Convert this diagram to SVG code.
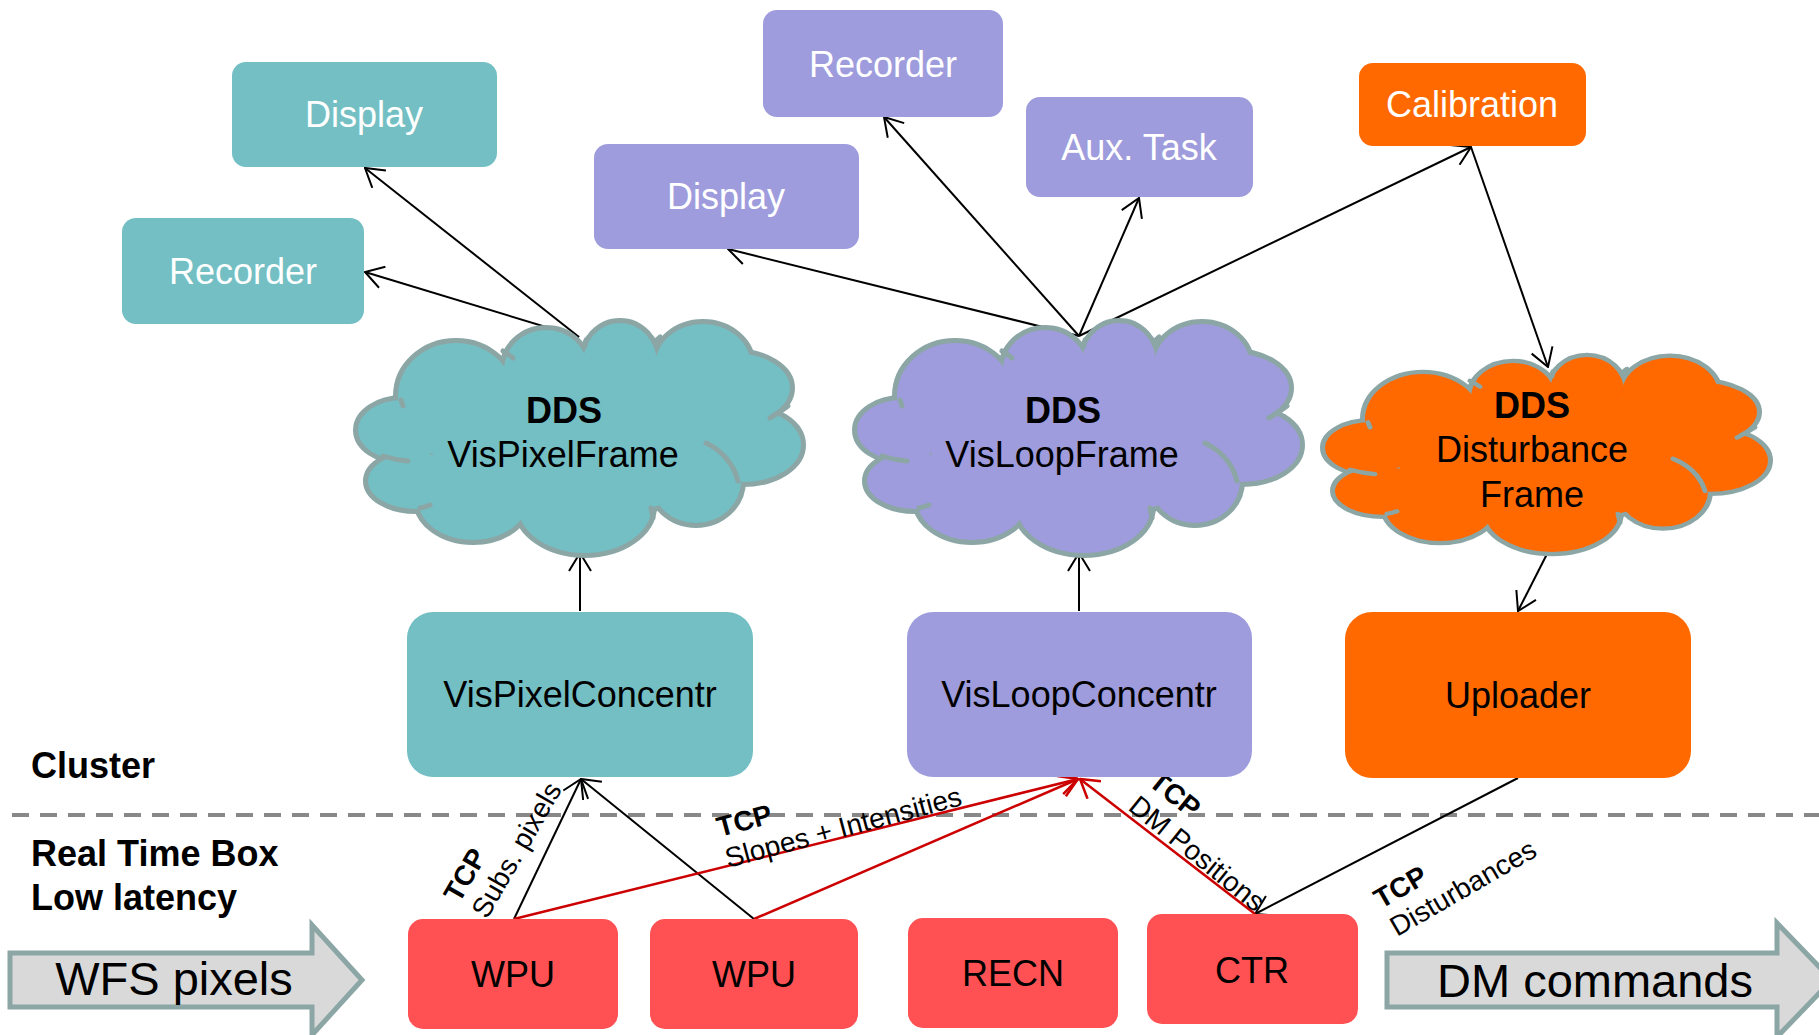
<svg xmlns="http://www.w3.org/2000/svg" xmlns:xlink="http://www.w3.org/1999/xlink" width="1819" height="1035" viewBox="0 0 1819 1035">
<style>
text{font-family:"Liberation Sans",Arial,sans-serif}
.t36{font-size:36px;text-anchor:middle}
.white{fill:#fff}
.blk{fill:#000}
.teal{fill:#73BFC4}
.purple{fill:#9E9CDC}
.orange{fill:#FF6900}
.red{fill:#FF5153}
.cl-out{fill:currentColor;stroke:#8CA6A6;stroke-width:10}
.cl-in{fill:currentColor;stroke:none}
.cl-tick{fill:none;stroke:#8CA6A6;stroke-width:5;stroke-linecap:round}
.conn{fill:none;stroke:#000;stroke-width:2;marker-end:url(#ah)}
.connr{fill:none;stroke:#CC0000;stroke-width:2.5;marker-end:url(#ahr)}
.lbl{font-size:28px;fill:#000}
.sec{font-size:36px;font-weight:bold;fill:#000}
.bigarrow{fill:#D9D9D9;stroke:#8CA6A6;stroke-width:5}
.big{font-size:47px;text-anchor:middle;fill:#000}
</style>
<defs>
<marker id="ah" viewBox="0 0 20 24" refX="19" refY="12" markerWidth="20" markerHeight="24" markerUnits="userSpaceOnUse" orient="auto">
<path d="M1,1 L19,12 L1,23" fill="none" stroke="#000" stroke-width="2"/>
</marker>
<marker id="ahr" viewBox="0 0 20 24" refX="19" refY="12" markerWidth="20" markerHeight="24" markerUnits="userSpaceOnUse" orient="auto">
<path d="M1,1 L19,12 L1,23" fill="none" stroke="#CC0000" stroke-width="2.5"/>
</marker>
<g id="blobs">
<ellipse cx="45" cy="107" rx="45" ry="30"/>
<ellipse cx="58" cy="158" rx="48" ry="28"/>
<ellipse cx="115" cy="177" rx="55" ry="40"/>
<ellipse cx="227" cy="183" rx="67" ry="47"/>
<ellipse cx="338" cy="158" rx="45" ry="42"/>
<ellipse cx="385" cy="122" rx="58" ry="37"/>
<ellipse cx="375" cy="65" rx="57" ry="35"/>
<ellipse cx="345" cy="43" rx="48" ry="42"/>
<ellipse cx="262" cy="40" rx="37" ry="40"/>
<ellipse cx="188" cy="47" rx="42" ry="40"/>
<ellipse cx="98" cy="73" rx="58" ry="53"/>
<ellipse cx="222" cy="117" rx="150" ry="77"/>
</g>
<g id="ticks">
<path d="M43,77 q1,3 2,6"/>
<path d="M25,133 q12,4 25,5"/>
<path d="M62,185 q5,-1 10,-3"/>
<path d="M293,185 q1,5 2,10"/>
<path d="M348,120 q25,12 32,38"/>
<path d="M412,95 q9,-5 18,-12"/>
<path d="M297,20 q2,-4 5,-6"/>
<path d="M227,23 q0,-4 1,-6"/>
<path d="M155,35 q-5,-4 -10,-7"/>
</g>
</defs>

<rect x="0" y="0" width="1819" height="1035" fill="#fff"/>

<!-- section labels and divider -->
<g id="sections">
<line x1="12" y1="815" x2="1819" y2="815" stroke="#888" stroke-width="4" stroke-dasharray="17 11"/>
<text class="sec" x="31" y="778">Cluster</text>
<text class="sec" x="31" y="866">Real Time Box</text>
<text class="sec" x="31" y="910">Low latency</text>
</g>

<!-- big arrows -->
<g id="wfs-pixels">
<path class="bigarrow" d="M10,953 H312 V925 L362,980 L312,1035 V1007 H10 Z"/>
<text class="big" x="174" y="995">WFS pixels</text>
</g>
<g id="dm-commands">
<path class="bigarrow" d="M1387,953 H1777 V923 L1832,980 L1777,1037 V1007 H1387 Z"/>
<text class="big" x="1595" y="997">DM commands</text>
</g>

<!-- connectors -->
<g id="connectors">
<line class="conn" x1="579" y1="337" x2="365" y2="168"/>
<line class="conn" x1="579" y1="337" x2="365" y2="272"/>
<line class="conn" x1="1079" y1="336" x2="728" y2="249"/>
<line class="conn" x1="1079" y1="336" x2="884" y2="117"/>
<line class="conn" x1="1079" y1="336" x2="1139" y2="198"/>
<line class="conn" x1="1079" y1="336" x2="1471" y2="147"/>
<line class="conn" x1="1471" y1="147" x2="1548" y2="367"/>
<line class="conn" x1="1548" y1="552" x2="1518" y2="611"/>
<line class="conn" x1="580" y1="611" x2="580" y2="553"/>
<line class="conn" x1="1079" y1="611" x2="1079" y2="553"/>
<line class="conn" x1="514" y1="919" x2="581" y2="779"/>
<line class="conn" x1="754" y1="919" x2="581" y2="779"/>
<line class="conn" x1="1518" y1="778" x2="1255" y2="914"/>
<line class="connr" x1="514" y1="919" x2="1078" y2="779"/>
<line class="connr" x1="754" y1="919" x2="1078" y2="779"/>
<line class="connr" x1="1255" y1="914" x2="1080" y2="779"/>
<text class="lbl" transform="translate(487,920) rotate(-60)"><tspan x="0" y="-32" font-weight="bold">TCP</tspan><tspan x="0" y="0">Subs. pixels</tspan></text>
<text class="lbl" transform="translate(728,868) rotate(-15)"><tspan x="0" y="-32" font-weight="bold">TCP</tspan><tspan x="0" y="0">Slopes + Intensities</tspan></text>
<text class="lbl" transform="translate(1127,809) rotate(39)"><tspan x="0" y="-32" font-weight="bold">TCP</tspan><tspan x="0" y="0">DM Positions</tspan></text>
<text class="lbl" transform="translate(1397,937) rotate(-30)"><tspan x="0" y="-32" font-weight="bold">TCP</tspan><tspan x="0" y="0">Disturbances</tspan></text>
</g>

<!-- top boxes -->
<g id="display-teal">
<rect class="teal" x="232" y="62" width="265" height="105" rx="14"/>
<text class="t36 white" x="364" y="127">Display</text>
</g>
<g id="recorder-teal">
<rect class="teal" x="122" y="218" width="242" height="106" rx="14"/>
<text class="t36 white" x="243" y="284">Recorder</text>
</g>
<g id="recorder-purple">
<rect class="purple" x="763" y="10" width="240" height="107" rx="14"/>
<text class="t36 white" x="883" y="77">Recorder</text>
</g>
<g id="display-purple">
<rect class="purple" x="594" y="144" width="265" height="105" rx="14"/>
<text class="t36 white" x="726" y="209">Display</text>
</g>
<g id="aux-task">
<rect class="purple" x="1026" y="97" width="227" height="100" rx="14"/>
<text class="t36 white" x="1139" y="160">Aux. Task</text>
</g>
<g id="calibration">
<rect class="orange" x="1359" y="63" width="227" height="83" rx="14"/>
<text class="t36 white" x="1472" y="117">Calibration</text>
</g>

<!-- clouds -->
<g id="dds-vispixelframe">
<g transform="translate(358,323)" style="color:#73BFC4">
<use xlink:href="#blobs" class="cl-out"/>
<use xlink:href="#blobs" class="cl-in"/>
<use xlink:href="#ticks" class="cl-tick"/>
</g>
<text class="t36 blk" x="564" y="423" font-weight="bold">DDS</text>
<text class="t36 blk" x="563" y="467">VisPixelFrame</text>
</g>
<g id="dds-visloopframe">
<g transform="translate(857,323)" style="color:#9E9CDC">
<use xlink:href="#blobs" class="cl-out"/>
<use xlink:href="#blobs" class="cl-in"/>
<use xlink:href="#ticks" class="cl-tick"/>
</g>
<text class="t36 blk" x="1063" y="423" font-weight="bold">DDS</text>
<text class="t36 blk" x="1062" y="467">VisLoopFrame</text>
</g>
<g id="dds-disturbanceframe">
<g transform="translate(1325,357) scale(1,0.848)" style="color:#FF6900">
<use xlink:href="#blobs" class="cl-out"/>
<use xlink:href="#blobs" class="cl-in"/>
<use xlink:href="#ticks" class="cl-tick"/>
</g>
<text class="t36 blk" x="1532" y="418" font-weight="bold">DDS</text>
<text class="t36 blk" x="1532" y="462">Disturbance</text>
<text class="t36 blk" x="1532" y="507">Frame</text>
</g>

<!-- middle boxes -->
<g id="vispixelconcentr">
<rect class="teal" x="407" y="612" width="346" height="165" rx="26"/>
<text class="t36 blk" x="580" y="707">VisPixelConcentr</text>
</g>
<g id="visloopconcentr">
<rect class="purple" x="907" y="612" width="345" height="165" rx="26"/>
<text class="t36 blk" x="1079" y="707">VisLoopConcentr</text>
</g>
<g id="uploader">
<rect class="orange" x="1345" y="612" width="346" height="166" rx="27"/>
<text class="t36 blk" x="1518" y="708">Uploader</text>
</g>

<!-- bottom boxes -->
<g id="wpu1">
<rect class="red" x="408" y="919" width="210" height="110" rx="15"/>
<text class="t36 blk" x="513" y="987">WPU</text>
</g>
<g id="wpu2">
<rect class="red" x="650" y="919" width="208" height="110" rx="15"/>
<text class="t36 blk" x="754" y="987">WPU</text>
</g>
<g id="recn">
<rect class="red" x="908" y="918" width="210" height="110" rx="15"/>
<text class="t36 blk" x="1013" y="986">RECN</text>
</g>
<g id="ctr">
<rect class="red" x="1147" y="914" width="211" height="110" rx="15"/>
<text class="t36 blk" x="1252" y="983">CTR</text>
</g>
</svg>
